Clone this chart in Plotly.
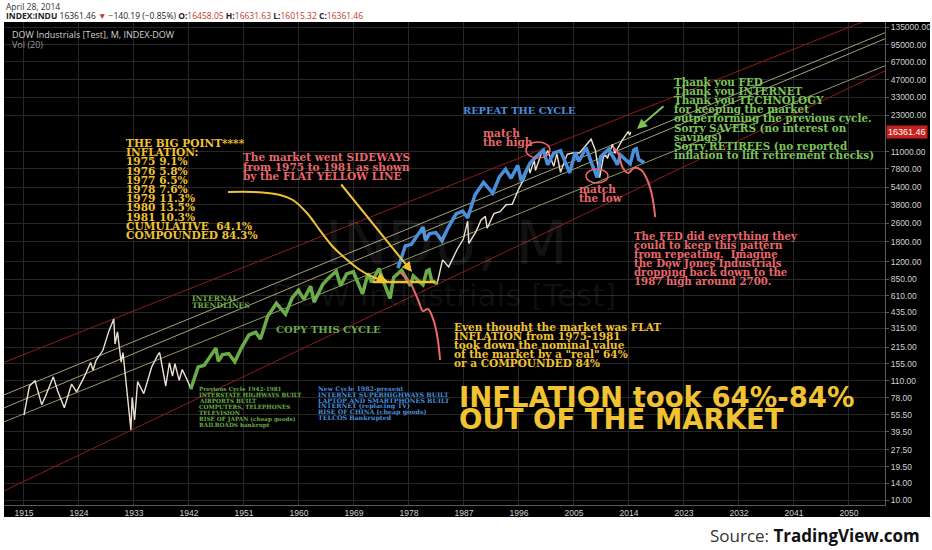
import math
import plotly.graph_objects as go

# Dow Jones Industrial Average, swing points
dow_years = [1915.0, 1915.9, 1916.8, 1917.9, 1918.5, 1919.8, 1920.5, 1921.6, 1922.8, 1923.6,
             1924.9, 1925.9, 1926.3, 1926.8, 1927.9, 1928.9, 1929.7, 1929.9, 1930.3, 1930.9,
             1931.2, 1931.9, 1932.5, 1932.7, 1933.1, 1933.6, 1934.6, 1935.0, 1935.9, 1936.9,
             1937.2, 1938.2, 1938.8, 1939.3, 1939.7, 1940.4, 1940.9, 1941.9, 1942.3,
             1943.5, 1944.5, 1945.9, 1946.4, 1946.8, 1947.5, 1948.5, 1949.5, 1950.5, 1951.8,
             1952.9, 1953.7, 1954.9, 1955.9, 1956.3, 1957.8, 1958.9, 1959.9, 1960.8, 1961.9,
             1962.5, 1963.9, 1964.9, 1966.1, 1966.8, 1967.8, 1968.9, 1970.4, 1971.3, 1971.9,
             1972.9, 1973.1, 1973.9, 1974.9, 1975.5, 1976.8, 1977.9, 1978.2, 1978.7, 1979.9,
             1980.3, 1980.9, 1981.3, 1981.7, 1982.6,
             1983.5, 1984.5, 1985.9, 1986.9, 1987.6, 1987.8, 1988.9, 1989.8, 1990.5, 1990.8,
             1991.9, 1992.9, 1993.9, 1994.9, 1995.9, 1996.9, 1997.6, 1997.8, 1998.5, 1998.7,
             1999.9, 2000.2, 2000.7, 2001.7, 2002.2, 2002.8, 2003.9, 2004.9, 2005.9, 2006.9,
             2007.8, 2008.5, 2009.2, 2009.9, 2010.5, 2011.3, 2011.7, 2012.8, 2013.9, 2014.1, 2014.3]
dow_values = [55, 99, 110, 68, 80, 119, 90, 64, 103, 88,
              120, 159, 136, 166, 202, 300, 381, 230, 294, 160,
              194, 78, 41, 79, 50, 108, 85, 100, 145, 185,
              194, 99, 158, 121, 155, 111, 138, 106, 93,
              145, 150, 195, 212, 163, 186, 190, 161, 209, 276,
              292, 255, 404, 488, 521, 420, 583, 679, 566, 734,
              535, 767, 874, 995, 744, 943, 985, 631, 950, 797,
              1036, 1051, 788, 577, 880, 1014, 800, 742, 907, 800,
              759, 1000, 1024, 824, 776,
              1250, 1086, 1550, 1900, 2722, 1738, 2170, 2790, 3000, 2365,
              3170, 3300, 3790, 3830, 5120, 6500, 8250, 7160, 9340, 7540,
              11500, 9800, 11300, 8236, 10600, 7286, 10450, 10780, 10720, 12460,
              14165, 11350, 6547, 10430, 9690, 12800, 10650, 13600, 16577, 15372, 16361]

# the cycle traced in green
copy_cycle = (1942.3, 1982.6)

# the same cycle pasted forward in blue ("REPEAT THE CYCLE")
repeat_years = [1976.2, 1977.4, 1978.4, 1979.8, 1980.3, 1980.7, 1981.4, 1982.4, 1983.4, 1984.4,
                1985.7, 1986.8, 1987.6, 1988.8, 1989.8, 1990.2, 1991.7, 1992.8, 1993.8, 1994.7,
                1995.8, 1996.4, 1997.8, 1998.8, 2000.0, 2000.7, 2001.7, 2002.8, 2004.3, 2005.2,
                2005.8, 2006.8, 2007.0, 2007.8, 2008.8, 2009.4, 2010.7, 2011.8, 2012.1, 2012.6,
                2013.8, 2014.2, 2014.8, 2015.2, 2015.6, 2016.5]
repeat_values = [1060, 1653, 1710, 2223, 2417, 1858, 2120, 2166, 1835, 2383,
                 3146, 3329, 2907, 4606, 5563, 5939, 4788, 6646, 7741, 6452,
                 8368, 6099, 8744, 9964, 11343, 8482, 10750, 11229, 7193, 10830,
                 9086, 11810, 11981, 8983, 6578, 10032, 11560, 9120, 8459, 10340,
                 9120, 8653, 11400, 11674, 9394, 8846]

# channel lines (start/end)
channel_years = [1911.7, 2056.2]
upper_red = [159, 182000]
lower_red = [12.0, 56950]
internal_a = [82.6, 122300]
internal_b = [63.6, 108400]
internal_c = [48.0, 63000]

# flat yellow line 1972-1982
flat_years = [1972.1, 1982.3]
flat_values = [802, 802]

# hand drawn projections
drop_1975_years = [1976.5, 1978.2, 1979.5, 1980.3, 1981.1, 1981.9, 1982.6, 1983.1]
drop_1975_values = [980, 785, 558, 447, 466, 388, 276, 167]
drop_2014_years = [2011.4, 2012.2, 2013.0, 2013.9, 2014.8, 2016.0, 2017.0, 2017.8, 2018.3]
drop_2014_values = [12110, 10740, 7940, 7180, 7940, 7620, 6230, 4520, 2960]
curve_years = [1948.4, 1952.5, 1956.9, 1959.0, 1961.3, 1963.4, 1965.6, 1967.9, 1970.0, 1972.1, 1974.4]
curve_values = [4900, 4900, 4610, 4170, 3210, 2280, 1620, 1248, 1020, 887, 818]

x_ticks = [1915, 1924, 1933, 1942, 1951, 1960, 1969, 1978, 1987, 1996, 2005, 2014, 2023, 2032, 2041, 2050]
y_ticks = [10, 14, 19.5, 27.5, 39.5, 55.5, 78, 110, 155, 215, 315, 435, 610, 850, 1200, 1800,
           2600, 3800, 5400, 7800, 11000, 23000, 33000, 47000, 67000, 95000, 135000]

YELLOW = "#f1c232"
PINK = "#e8676b"
GREEN_TXT = "#7cc35a"
GREEN = "#6aac48"
BLUE = "#4a8fdc"
SERIF = "DejaVu Serif"
SANS = "DejaVu Sans"


def px(x):
    return (x - 4) / 881


def py(y):
    return (505 - y) / 483


def note(fig, text, x, y, size, color, family="Open Sans", xanchor="left"):
    fig.add_annotation(x=px(x), y=py(y), xref="paper", yref="paper", text=text, showarrow=False,
                       xanchor=xanchor, yanchor="middle", font=dict(family=family, size=size, color=color))


def add_lines(fig, lines, x, y, step, color, size, family=SERIF):
    for i, t in enumerate(lines):
        note(fig, f"<b>{t}</b>", x, y + i * step, size, color, family)


fig = go.Figure()

for vals, color in [(upper_red, "#8e1c1c"), (lower_red, "#8e1c1c"),
                    (internal_a, "#a3a37a"), (internal_b, "#a3a37a"), (internal_c, "#8f9a66")]:
    fig.add_trace(go.Scatter(x=channel_years, y=vals, mode="lines",
                             line=dict(color=color, width=1), hoverinfo="skip"))

fig.add_trace(go.Scatter(x=dow_years, y=dow_values, mode="lines",
                         line=dict(color="#ece2d2", width=1.4), name="DOW"))

cyc_x = [x for x in dow_years if copy_cycle[0] <= x <= copy_cycle[1]]
cyc_y = [v for x, v in zip(dow_years, dow_values) if copy_cycle[0] <= x <= copy_cycle[1]]
fig.add_trace(go.Scatter(x=cyc_x, y=cyc_y, mode="lines", line=dict(color=GREEN, width=3.5)))
fig.add_trace(go.Scatter(x=repeat_years, y=repeat_values, mode="lines", line=dict(color=BLUE, width=3.5)))

fig.add_trace(go.Scatter(x=flat_years, y=flat_values, mode="lines", line=dict(color=YELLOW, width=2.5)))
fig.add_trace(go.Scatter(x=curve_years, y=curve_values, mode="lines", line=dict(color=YELLOW, width=2, shape="spline")))
fig.add_trace(go.Scatter(x=drop_1975_years, y=drop_1975_values, mode="lines",
                         line=dict(color=PINK, width=2, shape="spline")))
fig.add_trace(go.Scatter(x=drop_2014_years, y=drop_2014_values, mode="lines",
                         line=dict(color=PINK, width=2, shape="spline")))

# chart background panel incl. axis area
fig.add_shape(type="rect", xref="paper", yref="paper", x0=0, x1=px(930), y0=py(517), y1=1,
              fillcolor="black", line=dict(width=0), layer="below")

# match circles
for x0, x1, y0, y1 in [(526, 550, 158, 142), (586, 608, 183, 169)]:
    fig.add_shape(type="circle", xref="paper", yref="paper", x0=px(x0), x1=px(x1), y0=py(y0), y1=py(y1),
                  line=dict(color=PINK, width=1.5))

# arrows
for tx, ty, ax, ay, color in [(387, 281, -10, -4, YELLOW), (412, 272, -72, -89, YELLOW), (637, 129, 28, -24, GREEN_TXT)]:
    fig.add_annotation(x=px(tx), y=py(ty), xref="paper", yref="paper", text="", showarrow=True,
                       ax=ax, ay=ay, arrowhead=2, arrowsize=1, arrowwidth=2, arrowcolor=color)

# watermark
note(fig, "INDU, M", 446, 243, 60, "rgba(255,255,255,0.07)", SANS, "center")
note(fig, "DOW Industrials [Test]", 443, 295, 31, "rgba(255,255,255,0.07)", SANS, "center")

# header
note(fig, "DOW Industrials [Test], M, INDEX-DOW", 10, 34, 9, "#d4d4d4")
note(fig, "Vol (20)", 10, 44, 9, "#9a9a9a")
note(fig, "April 28, 2014", 4, 6, 8.5, "#333")
red = "#c0392b"
note(fig, (f"<b>INDEX:INDU</b> 16361.46 <span style='color:{red}'>▼</span> −140.19 (−0.85%) "
           f"<b>O:</b><span style='color:{red}'>16458.05</span> "
           f"<b>H:</b><span style='color:{red}'>16631.63</span> "
           f"<b>L:</b><span style='color:{red}'>16015.32</span> "
           f"<b>C:</b><span style='color:{red}'>16361.46</span>"), 4, 16, 8.5, "#222")
note(fig, "Source: <b><span style='color:#111'>TradingView.com</span></b>", 922, 535, 17, "#333",
     xanchor="right")

# last price tag
fig.add_annotation(x=1, y=math.log10(16361.46), xref="paper", yref="y", xanchor="left", xshift=1,
                   showarrow=False, text="16361.46", bgcolor="#c8201e", borderpad=1,
                   font=dict(family="Liberation Sans", size=9, color="white"))

# commentary
add_lines(fig, ["THE BIG POINT****", "INFLATION:", "1975 9.1%", "1976 5.8%", "1977 6.5%", "1978 7.6%",
                "1979 11.3%", "1980 13.5%", "1981 10.3%", "CUMULATIVE  64.1%", "COMPOUNDED 84.3%"],
          124, 143, 9.2, YELLOW, 10.6)
add_lines(fig, ["The market went SIDEWAYS", "from 1975 to 1981 as shown", "by the FLAT YELLOW LINE"],
          241, 157, 9.5, PINK, 10.5)
add_lines(fig, ["INTERNAL", "TRENDLINES"], 190, 298, 7, GREEN, 7.5)
add_lines(fig, ["COPY THIS CYCLE"], 274, 329, 9, GREEN, 10)
add_lines(fig, ["Previous Cycle 1942-1981", "INTERSTATE HIGHWAYS BUILT", "AIRPORTS BUILT",
                "COMPUTERS, TELEPHONES", "TELEVISION", "RISE OF JAPAN (cheap goods)", "RAILROADS bankrupt"],
          197, 389, 6, GREEN, 5.7)
add_lines(fig, ["New Cycle 1982-present", "INTERNET SUPERHIGHWAYS BUILT", "LAPTOP AND SMARTPHONES BUILT",
                "INTERNET (replacing TV)", "RISE OF CHINA (cheap goods)", "TELCOS Bankrupted"],
          316, 389, 5.8, BLUE, 6.3)
add_lines(fig, ["REPEAT THE CYCLE"], 461, 111, 9, BLUE, 9.8)
add_lines(fig, ["match", "the high"], 481, 133, 9, PINK, 10.5)
add_lines(fig, ["match", "the low"], 577, 189, 9, PINK, 10.5)
add_lines(fig, ["Thank you FED", "Thank you INTERNET", "Thank you TECHNOLOGY", "for keeping the market",
                "outperforming the previous cycle.", "Sorry SAVERS (no interest on", "savings)",
                "Sorry RETIREES (no reported", "inflation to lift retirement checks)"],
          672, 82, 9.1, GREEN_TXT, 10.4)
add_lines(fig, ["The FED did everything they", "could to keep this pattern", "from repeating.  Imagine",
                "the Dow Jones Industrials", "dropping back down to the", "1987 high around 2700."],
          632, 236, 9, PINK, 10.2)
add_lines(fig, ["Even thought the market was FLAT", "INFLATION from 1975-1981", "took down the nominal value",
                "of the market by a \"real\" 64%", "or a COMPOUNDED 84%"],
          452, 327, 9, YELLOW, 10.5)
add_lines(fig, ["INFLATION took 64%-84%", "OUT OF THE MARKET"], 457, 397, 22, YELLOW, 27.5, family=SANS)

fig.update_layout(
    width=932, height=550,
    margin=dict(l=4, r=47, t=22, b=45),
    paper_bgcolor="white", plot_bgcolor="black",
    showlegend=False,
    xaxis=dict(range=[1911.73, 2055.9], tickvals=x_ticks, ticktext=[str(t) for t in x_ticks],
               showgrid=True, gridcolor="#272727", zeroline=False, showline=True, linecolor="#5a5a5a",
               ticks="", automargin=False,
               tickfont=dict(family="Liberation Sans", size=8.5, color="#d0d0d0")),
    yaxis=dict(type="log", side="right", range=[0.9563, 5.1747], tickvals=y_ticks,
               ticktext=[f"{v:.2f}" for v in y_ticks], automargin=False,
               showgrid=True, gridcolor="#272727", zeroline=False, showline=True, linecolor="#5a5a5a",
               ticks="outside", ticklen=3, tickcolor="#5a5a5a",
               tickfont=dict(family="Liberation Sans", size=8.5, color="#d0d0d0")),
)

# page body has a default margin; drop it so the figure sits at the window corner
fig.write_html("out.html", config={"displayModeBar": False},
               post_script="document.body.style.margin='0px';")
